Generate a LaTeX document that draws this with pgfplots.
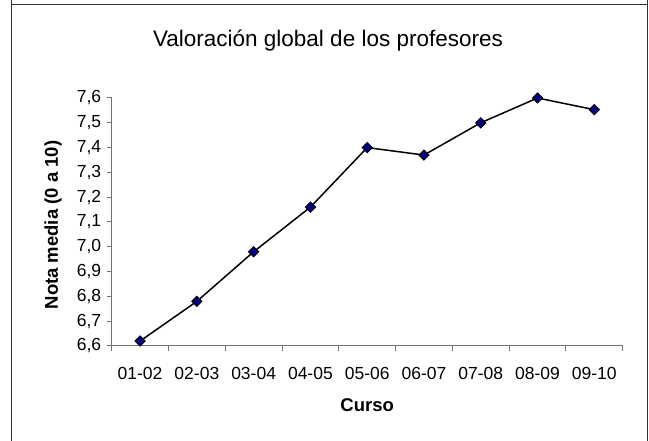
\documentclass[border=0pt]{standalone}
\usepackage{fontspec}
\setmainfont{Liberation Sans}
\usepackage{pgfplots}
\pgfplotsset{compat=1.18}
\begin{document}
\begin{tikzpicture}[x=1pt,y=1pt]
\useasboundingbox (0,0) rectangle (649,441);
\draw[line width=1.4pt, black!80] (11.7,441) -- (11.7,436.7) -- (647.3,436.7) -- (647.3,441);
\draw[line width=1.4pt, black!80] (11.7,436.7) -- (11.7,0);
\draw[line width=1.4pt, black!80] (647.3,436.7) -- (647.3,0);
\node[anchor=base, font=\fontsize{22.5}{27}\selectfont] at (328,394.3) {Valoración global de los profesores};
\begin{axis}[
  at={(111.7pt,95pt)}, anchor=south west,
  scale only axis, width=511pt, height=248pt,
  xmin=-0.5, xmax=8.5, ymin=6.6, ymax=7.6,
  axis x line=bottom, axis y line=left,
  axis line style={-, black!55, line width=1pt},
  xtick={0,...,8},
  xticklabels={01-02,02-03,03-04,04-05,05-06,06-07,07-08,08-09,09-10},
  minor xtick={-0.5,0.5,...,8.5},
  ytick={6.6,6.7,...,7.61},
  major x tick style={draw=none},
  tick align=outside,
  major tick length=5pt, minor tick length=5pt,
  tick style={black!55, line width=1pt},
  ticklabel style={font=\fontsize{17.5}{20}\selectfont},
  xticklabel style={yshift=-13pt},
  yticklabel style={xshift=-2pt},
  /pgf/number format/assume math mode=true,
  yticklabel={\pgfmathprintnumber[fixed,fixed zerofill,precision=1,use comma]{\tick}},
  xlabel={\textbf{Curso}},
  ylabel={\textbf{Nota media (0 a 10)}},
  label style={font=\fontsize{18.5}{21}\selectfont},
  xlabel style={at={(axis description cs:0.5,-0.265)}, anchor=base},
  ylabel style={at={(axis description cs:-0.1149,0.488)}, anchor=center, rotate=0},
  clip=false,
]
\addplot[black, line width=1.5pt, mark=square*, mark options={rotate=45, fill={rgb,255:red,0;green,0;blue,128}, draw=black, line width=0.9pt}, mark size=3.6pt]
coordinates {(0,6.62) (1,6.78) (2,6.98) (3,7.16) (4,7.40) (5,7.37) (6,7.50) (7,7.60) (8,7.553)};
\end{axis}
\end{tikzpicture}
\end{document}
